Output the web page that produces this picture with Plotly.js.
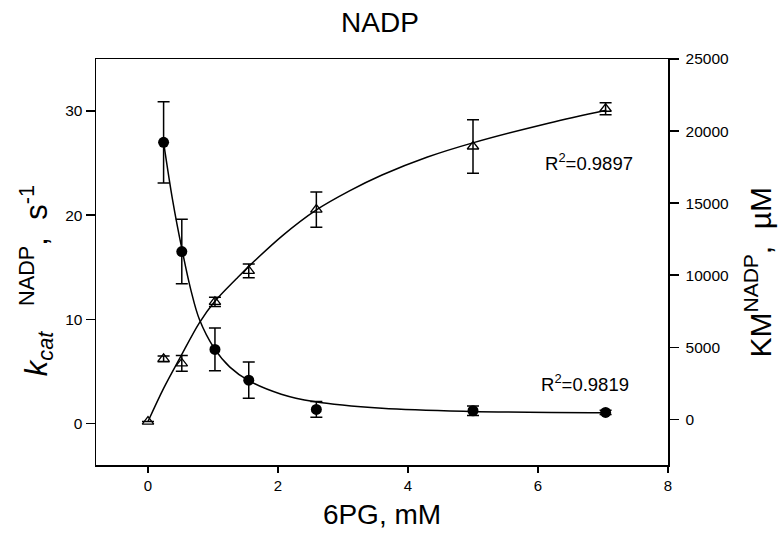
<!DOCTYPE html>
<html>
<head>
<meta charset="utf-8">
<script src="https://cdn.plot.ly/plotly-3.0.1.min.js"></script>
<style>html,body{margin:0;padding:0;background:#fff}#chart{width:781px;height:546px}</style>
</head>
<body>
<div id="chart"></div>
<script>
// kcat (left axis) measured points
const kcatX = [0.24, 0.52, 1.03, 1.55, 2.59, 5.0, 7.04];
const kcatY = [27.0, 16.5, 7.1, 4.15, 1.34, 1.21, 1.05];
const kcatErr = [3.9, 3.1, 2.05, 1.75, 0.75, 0.45, 0.2];
// KM (right axis) measured points
const kmX = [0, 0.24, 0.52, 1.03, 1.55, 2.59, 5.0, 7.04];
const kmY = [-150, 4200, 3880, 8150, 10300, 14550, 18930, 21550];
const kmErr = [0, 200, 550, 320, 480, 1230, 1850, 420];
// fitted curves
const kcatFitX = [0.24, 0.38, 0.52, 0.66, 0.79, 1.02, 1.26, 1.55, 2.05, 2.55, 3.6, 4.95, 7.04];
const kcatFitY = [27.0, 21.4, 16.8, 12.8, 10.0, 7.2, 5.4, 4.1, 2.8, 2.1, 1.45, 1.15, 1.02];
const kmFitX = [0, 0.24, 0.49, 0.79, 1.02, 1.36, 1.56, 2.07, 2.58, 3.1, 3.6, 4.3, 5.01, 6.16, 7.05];
const kmFitY = [-150, 2150, 4250, 6700, 8140, 9750, 10650, 12750, 14500, 15850, 16950, 18200, 19200, 20550, 21450];
// tick labels
const xTicks = [0, 2, 4, 6, 8];
const yTicks = [0, 10, 20, 30];
const y2Ticks = [0, 5000, 10000, 15000, 20000, 25000];
// texts
const titleText = 'NADP';
const xTitle = '6PG, mM';
const yTitle = '<i>k</i><sub><i>cat</i></sub>\u00A0\u00A0\u00A0<sup>NADP</sup>,\u00A0\u00A0s<sup>-1</sup>';
const y2Title = 'KM<sup>NADP</sup>,\u00A0\u00A0µM';
const r2Texts = ['R<sup>2</sup>=0.9897', 'R<sup>2</sup>=0.9819'];

const FONT = 'Liberation Sans, Arial, sans-serif';
const data = [
  {x: kcatFitX, y: kcatFitY, mode: 'lines', line: {color: '#000', width: 1.5, shape: 'spline', smoothing: 1}, hoverinfo: 'skip', showlegend: false},
  {x: kmFitX, y: kmFitY, yaxis: 'y2', mode: 'lines', line: {color: '#000', width: 1.5, shape: 'spline', smoothing: 1}, hoverinfo: 'skip', showlegend: false},
  {x: kcatX, y: kcatY, mode: 'markers', marker: {symbol: 'circle', size: 11, color: '#000'},
   error_y: {type: 'data', array: kcatErr, visible: true, color: '#000', thickness: 1.5, width: 6}, showlegend: false},
  {x: kmX, y: kmY, yaxis: 'y2', mode: 'markers', marker: {symbol: 'triangle-up-open', size: 10, color: '#000', line: {width: 1.3, color: '#000'}},
   error_y: {type: 'data', array: kmErr, visible: true, color: '#000', thickness: 1.5, width: 6}, showlegend: false}
];
const layout = {
  width: 781, height: 546,
  paper_bgcolor: '#fff', plot_bgcolor: '#fff',
  margin: {l: 96, r: 113, t: 59, b: 81},
  font: {family: FONT, color: '#000', size: 15},
  title: {text: titleText, font: {family: FONT, size: 28, color: '#000'}, x: 0.4965, xref: 'paper', xanchor: 'center', y: 0.96, yref: 'container', yanchor: 'middle'},
  xaxis: {range: [-0.8, 8], tickvals: xTicks, ticktext: xTicks.map(String), ticks: 'outside', ticklen: 6, tickwidth: 1.5, tickcolor: '#000',
    showline: true, linecolor: '#000', linewidth: 1.5, mirror: true, showgrid: false, zeroline: false,
    tickfont: {size: 15}, title: {text: xTitle, font: {size: 28}, standoff: 12}},
  yaxis: {range: [-4, 35], tickvals: yTicks, ticktext: yTicks.map(String), ticks: 'outside', ticklen: 9, tickwidth: 1.5, tickcolor: '#000',
    showline: true, linecolor: '#000', linewidth: 1.5, showgrid: false, zeroline: false, tickfont: {size: 15.5}},
  yaxis2: {range: [-3165, 25000], overlaying: 'y', side: 'right', tickvals: y2Ticks, ticktext: y2Ticks.map(String), ticks: 'outside', ticklen: 9, tickwidth: 1.5, tickcolor: '#000',
    showline: true, linecolor: '#000', linewidth: 1.5, showgrid: false, zeroline: false, tickfont: {size: 15.5}, ticklabelstandoff: 4},
  annotations: [
    {x: -0.105, y: 0.455, xref: 'paper', yref: 'paper', text: yTitle, textangle: -90, showarrow: false, xanchor: 'center', yanchor: 'middle', font: {size: 31}},
    {x: 1.158, y: 0.475, xref: 'paper', yref: 'paper', text: y2Title, textangle: -90, showarrow: false, xanchor: 'center', yanchor: 'middle', font: {size: 30}},
    {x: 6.08, y: 25.15, xref: 'x', yref: 'y', text: r2Texts[0], showarrow: false, xanchor: 'left', yanchor: 'middle', font: {size: 18.5}},
    {x: 6.02, y: 3.86, xref: 'x', yref: 'y', text: r2Texts[1], showarrow: false, xanchor: 'left', yanchor: 'middle', font: {size: 18.5}}
  ],
  showlegend: false
};
Plotly.newPlot('chart', data, layout, {displayModeBar: false, staticPlot: true});
</script>
</body>
</html>
